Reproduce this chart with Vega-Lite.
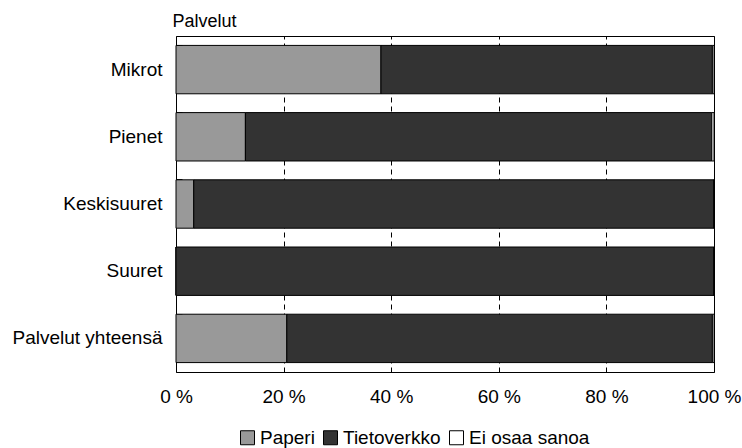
{
  "$schema": "https://vega.github.io/schema/vega-lite/v6.json",
  "width": 538,
  "height": 336,
  "autosize": {"type": "none"},
  "padding": {"left": 176, "top": 36, "right": 28, "bottom": 76},
  "data": {
    "values": [
      {"category": "Mikrot", "series": "Paperi", "value": 38.1, "order": 1},
      {"category": "Mikrot", "series": "Tietoverkko", "value": 61.6, "order": 2},
      {"category": "Mikrot", "series": "Ei osaa sanoa", "value": 0.3, "order": 3},
      {"category": "Pienet", "series": "Paperi", "value": 12.9, "order": 1},
      {"category": "Pienet", "series": "Tietoverkko", "value": 86.7, "order": 2},
      {"category": "Pienet", "series": "Ei osaa sanoa", "value": 0.4, "order": 3},
      {"category": "Keskisuuret", "series": "Paperi", "value": 3.3, "order": 1},
      {"category": "Keskisuuret", "series": "Tietoverkko", "value": 96.7, "order": 2},
      {"category": "Keskisuuret", "series": "Ei osaa sanoa", "value": 0, "order": 3},
      {"category": "Suuret", "series": "Paperi", "value": 0, "order": 1},
      {"category": "Suuret", "series": "Tietoverkko", "value": 100, "order": 2},
      {"category": "Suuret", "series": "Ei osaa sanoa", "value": 0, "order": 3},
      {"category": "Palvelut yhteensä", "series": "Paperi", "value": 20.6, "order": 1},
      {"category": "Palvelut yhteensä", "series": "Tietoverkko", "value": 79.1, "order": 2},
      {"category": "Palvelut yhteensä", "series": "Ei osaa sanoa", "value": 0.3, "order": 3}
    ]
  },
  "mark": {"type": "bar", "stroke": "#000", "strokeWidth": 1},
  "encoding": {
    "y": {
      "field": "category",
      "type": "nominal",
      "sort": null,
      "scale": {"paddingInner": 0.28, "paddingOuter": 0.14},
      "axis": {
        "title": "Palvelut",
        "titleAngle": 0,
        "titleX": -4,
        "titleY": -10,
        "titleAlign": "left",
        "titleBaseline": "alphabetic",
        "titleFontSize": 18,
        "titleFontWeight": "normal",
        "titleColor": "#000",
        "domain": false,
        "ticks": true,
        "tickSize": -6,
        "bandPosition": 0,
        "tickColor": "#000",
        "labelFontSize": 19,
        "labelPadding": 20,
        "labelColor": "#000"
      }
    },
    "x": {
      "field": "value",
      "type": "quantitative",
      "stack": "zero",
      "scale": {"domain": [0, 100]},
      "axis": {
        "title": null,
        "values": [0, 20, 40, 60, 80, 100],
        "labelExpr": "datum.value + ' %'",
        "labelFlush": false,
        "ticks": false,
        "domain": false,
        "grid": true,
        "gridColor": "#000",
        "gridDash": [5, 4],
        "labelFontSize": 19,
        "labelPadding": 15,
        "labelColor": "#000"
      }
    },
    "color": {
      "field": "series",
      "type": "nominal",
      "scale": {"domain": ["Paperi", "Tietoverkko", "Ei osaa sanoa"], "range": ["#999999", "#333333", "#ffffff"]},
      "legend": {
        "title": null,
        "orient": "none",
        "direction": "horizontal",
        "legendX": 62,
        "legendY": 392,
        "symbolType": "square",
        "symbolSize": 196,
        "symbolStrokeColor": "#000",
        "symbolStrokeWidth": 1,
        "symbolOpacity": 1,
        "labelFontSize": 19,
        "labelOffset": 3,
        "columnPadding": 6,
        "labelColor": "#000"
      }
    },
    "order": {"field": "order"}
  },
  "config": {
    "font": "Liberation Sans",
    "view": {"stroke": "#000", "strokeWidth": 1},
    "bar": {"opacity": 1}
  }
}
